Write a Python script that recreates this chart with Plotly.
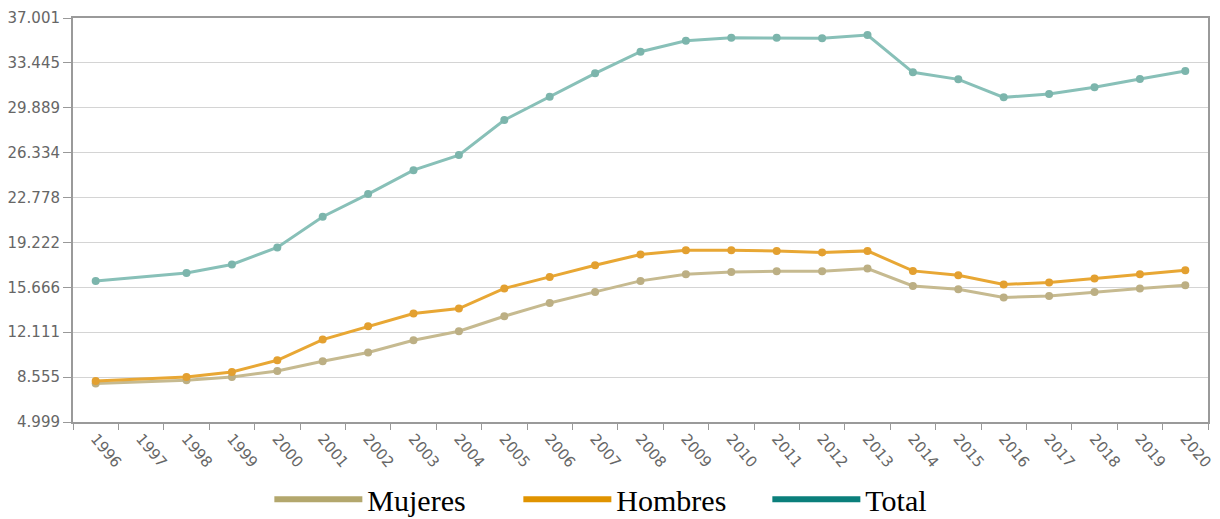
import plotly.graph_objects as go

years = ["1996", "1997", "1998", "1999", "2000", "2001", "2002", "2003", "2004",
         "2005", "2006", "2007", "2008", "2009", "2010", "2011", "2012", "2013",
         "2014", "2015", "2016", "2017", "2018", "2019", "2020"]

total = [16170, None, 16810, 17476, 18830, 21260, 23050, 24950, 26140,
         28915, 30760, 32620, 34330, 35200, 35440, 35440, 35390, 35650,
         32700, 32140, 30715, 30980, 31510, 32170, 32800]

hombres = [8249, None, 8566, 8963, 9890, 11531, 12585, 13592, 13988,
           15574, 16493, 17421, 18269, 18610, 18610, 18554, 18427, 18554,
           16969, 16628, 15891, 16050, 16366, 16707, 17024]

mujeres = [8043, None, 8305, 8566, 9042, 9811, 10500, 11475, 12189,
           13378, 14432, 15304, 16177, 16707, 16890, 16945, 16945, 17159,
           15780, 15518, 14860, 14987, 15304, 15574, 15836]

y_tick_vals = [4999, 8555, 12111, 15666, 19222, 22778, 26334, 29889, 33445, 37001]
y_tick_text = ["4.999", "8.555", "12.111", "15.666", "19.222", "22.778",
               "26.334", "29.889", "33.445", "37.001"]

series_names = ["Mujeres", "Hombres", "Total"]
series_values = [mujeres, hombres, total]
line_colors = ["#c6ba90", "#e8a734", "#88c0b8"]
marker_colors = ["#bcaf84", "#e3a030", "#7cb5ac"]
legend_colors = ["#b3a76d", "#e09300", "#0b7f7b"]

fig = go.Figure()

for name, vals, lc, mc in zip(series_names, series_values, line_colors, marker_colors):
    fig.add_trace(go.Scatter(
        x=years, y=vals, mode="lines+markers", name=name,
        line=dict(color=lc, width=3),
        marker=dict(color=mc, size=8),
        connectgaps=True, showlegend=False, hoverinfo="x+y",
    ))

for name, c in zip(series_names, legend_colors):
    fig.add_trace(go.Scatter(
        x=[None], y=[None], mode="lines", name=name,
        line=dict(color=c, width=6), showlegend=True,
    ))

fig.update_layout(
    width=1212, height=511,
    margin=dict(l=65, r=12, t=10, b=97, autoexpand=False),
    paper_bgcolor="white", plot_bgcolor="white",
    font=dict(family="DejaVu Sans", size=15, color="#666666"),
    showlegend=True,
    legend=dict(
        orientation="h", x=0.173, xanchor="left", y=-0.191, yanchor="middle",
        font=dict(family="Liberation Serif", size=30, color="black"),
        itemwidth=88, entrywidth=146, bgcolor="rgba(0,0,0,0)",
        tracegroupgap=0,
    ),
    xaxis=dict(
        type="category", categoryorder="array", categoryarray=years,
        range=[-0.5, len(years) - 0.5],
        showgrid=False, tickson="boundaries", ticks="outside", ticklen=6,
        tickcolor="#999999", tickwidth=1,
        tickangle=50, tickfont=dict(family="DejaVu Sans", size=15, color="#666666"),
        showline=True, linecolor="#9a9a9a", linewidth=2, mirror=True,
        zeroline=False,
    ),
    yaxis=dict(
        range=[4999, 37001], tickvals=y_tick_vals, ticktext=y_tick_text,
        showgrid=True, gridcolor="#d4d4d4", gridwidth=1,
        ticks="outside", ticklen=8, tickcolor="#999999",
        tickfont=dict(family="DejaVu Sans", size=15, color="#666666"),
        showline=True, linecolor="#9a9a9a", linewidth=2, mirror=True,
        zeroline=False,
    ),
)

fig.write_html("out.html")
